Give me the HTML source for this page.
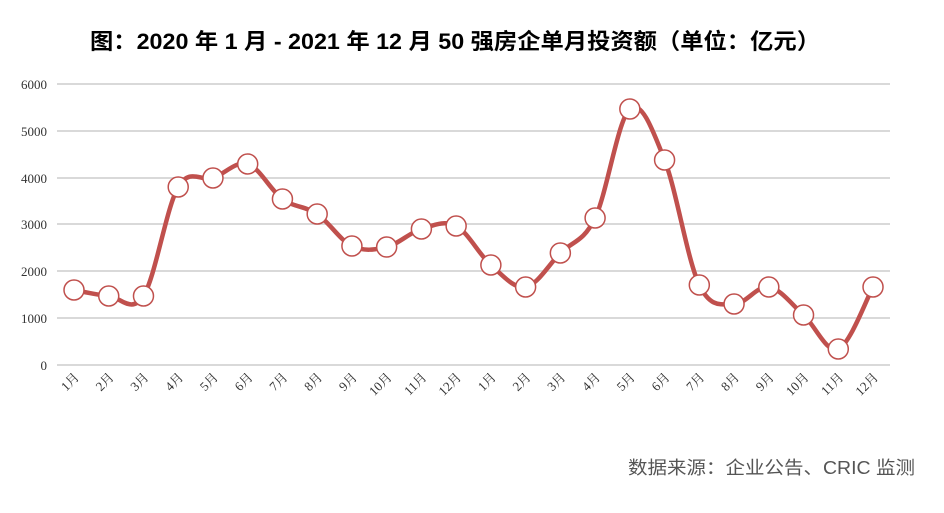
<!DOCTYPE html>
<html><head><meta charset="utf-8"><style>
body{margin:0;background:#fff;width:944px;height:508px;overflow:hidden}
</style></head><body>
<svg width="944" height="508" xmlns="http://www.w3.org/2000/svg">
<text x="90" y="49" textLength="730" lengthAdjust="spacingAndGlyphs" font-family="Liberation Sans, Noto Sans CJK SC, sans-serif" font-size="22" font-weight="bold" fill="#000">图：2020 年 1 月  - 2021 年 12 月 50 强房企单月投资额（单位：亿元）</text>
<g stroke="#d9d9d9" stroke-width="2">
<line x1="57" x2="890" y1="84" y2="84"/><line x1="57" x2="890" y1="131" y2="131"/><line x1="57" x2="890" y1="178" y2="178"/><line x1="57" x2="890" y1="224" y2="224"/><line x1="57" x2="890" y1="271" y2="271"/><line x1="57" x2="890" y1="318" y2="318"/><line x1="57" x2="890" y1="365" y2="365"/>
</g>
<g font-family="Liberation Serif, serif" font-size="13" text-anchor="end" fill="#333">
<text x="47" y="89">6000</text><text x="47" y="136">5000</text><text x="47" y="183">4000</text><text x="47" y="229">3000</text><text x="47" y="276">2000</text><text x="47" y="323">1000</text><text x="47" y="370">0</text>
</g>
<g id="xl" font-family="Liberation Serif, Noto Serif CJK SC, serif" font-size="13" text-anchor="end" fill="#333"></g>
<path id="ln" fill="none" stroke="#c0504d" stroke-width="4.5" stroke-linejoin="round"/>
<g id="mk"></g>
<text x="628" y="474" textLength="287" lengthAdjust="spacingAndGlyphs" font-family="Liberation Sans, Noto Sans CJK SC, sans-serif" font-size="18" fill="#555">数据来源：企业公告、CRIC 监测</text>
</svg>
<script>
var ys=[290,296,296,187,178,164,199,214,246,247,229,226,265,287,253,218,109,160,285,304,287,315,349,287];
var pts=ys.map(function(y,i){return [74+i*34.74,y]});
var d="M"+pts[0][0]+","+pts[0][1];
for(var i=0;i<pts.length-1;i++){var p0=pts[i-1]||pts[i],p1=pts[i],p2=pts[i+1],p3=pts[i+2]||p2;var t=0.17;
d+=" C"+(p1[0]+(p2[0]-p0[0])*t)+","+(p1[1]+(p2[1]-p0[1])*t)+" "+(p2[0]-(p3[0]-p1[0])*t)+","+(p2[1]-(p3[1]-p1[1])*t)+" "+p2[0]+","+p2[1];}
document.getElementById("ln").setAttribute("d",d);
var mk="",xl="";
pts.forEach(function(p,i){mk+='<circle cx="'+p[0]+'" cy="'+p[1]+'" r="10" fill="#fff" stroke="#c0504d" stroke-width="1.5"/>';
var m=(i%12)+1;xl+='<text transform="translate('+(p[0]+6)+',378) rotate(-45)">'+m+'月</text>';});
document.getElementById("mk").innerHTML=mk;document.getElementById("xl").innerHTML=xl;
</script>
</body></html>
